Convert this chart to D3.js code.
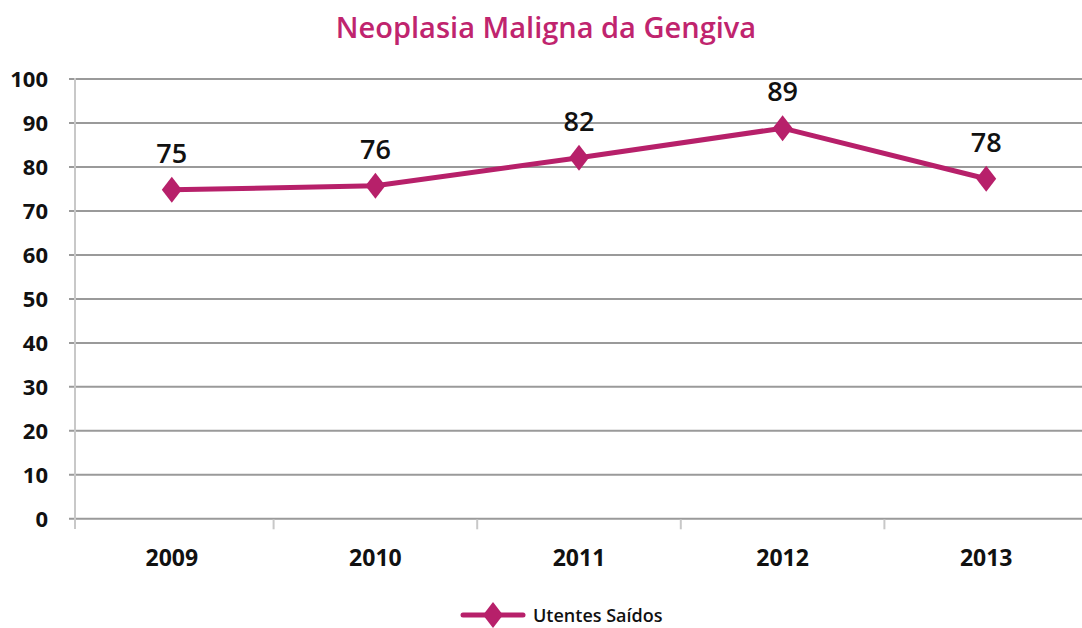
<!DOCTYPE html>
<html>
<head>
<meta charset="utf-8">
<script src="https://cdn.jsdelivr.net/npm/d3@7"></script>
<style>
  body { margin: 0; background: #fff; }
  text { font-family: "Open Sans", sans-serif; }
</style>
</head>
<body>
<svg id="chart" width="1082" height="628"></svg>
<script>
// data
const years = ["2009", "2010", "2011", "2012", "2013"];
const utentesSaidos = [74.7, 75.6, 82.0, 88.7, 77.2];
const pointLabels = ["75", "76", "82", "89", "78"];
const yTicks = [0, 10, 20, 30, 40, 50, 60, 70, 80, 90, 100];

const title = "Neoplasia Maligna da Gengiva";
const seriesName = "Utentes Saídos";
const lineColor = "#b7206a";

const svg = d3.select("#chart");
const margin = {top: 78.5, right: 0, bottom: 110, left: 75};

const x = d3.scaleBand().domain(years).range([70, 1088]);
const y = d3.scaleLinear().domain([0, 100]).range([518.3, 78.5]);

// title
svg.append("text")
    .attr("x", 546).attr("y", 38)
    .attr("text-anchor", "middle")
    .attr("fill", "#c0246e")
    .style("font-size", "29px").style("font-weight", 600)
    .text(title);

// gridlines + y labels
const yAxis = svg.append("g").attr("transform", "translate(" + margin.left + ",0)")
    .call(d3.axisLeft(y).tickValues(yTicks).tickSize(6).tickPadding(21));
yAxis.select(".domain").remove();
yAxis.selectAll(".tick line").attr("stroke", "#9a9a9a").attr("stroke-width", 2)
    .attr("x1", -6).attr("x2", 1082 - margin.left);
yAxis.selectAll(".tick text")
    .attr("fill", "#111")
    .style("font-size", "22px").style("font-weight", 700)
    .attr("dy", "0.36em");

// vertical axis line
svg.append("line")
    .attr("x1", 75).attr("x2", 75)
    .attr("y1", 78).attr("y2", 529)
    .attr("stroke", "#c8c8c8").attr("stroke-width", 2);

// x axis
const xAxis = svg.append("g").attr("transform", "translate(0," + y(0) + ")")
    .call(d3.axisBottom(x).tickSize(0));
xAxis.select(".domain").remove();
xAxis.selectAll(".tick line").remove();
xAxis.selectAll(".tick text")
    .attr("y", 48).attr("dy", null)
    .attr("fill", "#111")
    .style("font-size", "23px").style("font-weight", 700);

// category boundary ticks
const bounds = years.map(d => x(d)).slice(1);
svg.append("g").selectAll("line").data(bounds).enter().append("line")
    .attr("x1", d => d).attr("x2", d => d)
    .attr("y1", y(0) + 1).attr("y2", y(0) + 11)
    .attr("stroke", "#c8c8c8").attr("stroke-width", 2);

// series line
const cx = d => x(d) + x.bandwidth() / 2;
const line = d3.line().x((d, i) => cx(years[i])).y(d => y(d));
svg.append("path")
    .datum(utentesSaidos)
    .attr("d", line)
    .attr("fill", "none")
    .attr("stroke", lineColor)
    .attr("stroke-width", 5)
    .attr("stroke-linejoin", "round");

const diamond = (px, py) => "M" + px + "," + (py - 13) + "L" + (px + 10) + "," + py +
    "L" + px + "," + (py + 13) + "L" + (px - 10) + "," + py + "Z";

svg.append("g").selectAll("path").data(utentesSaidos).enter().append("path")
    .attr("d", (d, i) => diamond(cx(years[i]), y(d)))
    .attr("fill", lineColor);

// data labels
svg.append("g").selectAll("text").data(utentesSaidos).enter().append("text")
    .attr("x", (d, i) => cx(years[i]))
    .attr("y", d => y(d) - 27)
    .attr("text-anchor", "middle")
    .attr("fill", "#111")
    .style("font-size", "27px").style("font-weight", 600)
    .text((d, i) => pointLabels[i]);

// legend
const leg = svg.append("g");
leg.append("line")
    .attr("x1", 463).attr("x2", 523).attr("y1", 615).attr("y2", 615)
    .attr("stroke", lineColor).attr("stroke-width", 5).attr("stroke-linecap", "round");
leg.append("path").attr("d", diamond(493, 615)).attr("fill", lineColor);
leg.append("text")
    .attr("x", 533).attr("y", 622)
    .attr("fill", "#111")
    .style("font-size", "18px").style("font-weight", 600)
    .text(seriesName);
</script>
</body>
</html>
